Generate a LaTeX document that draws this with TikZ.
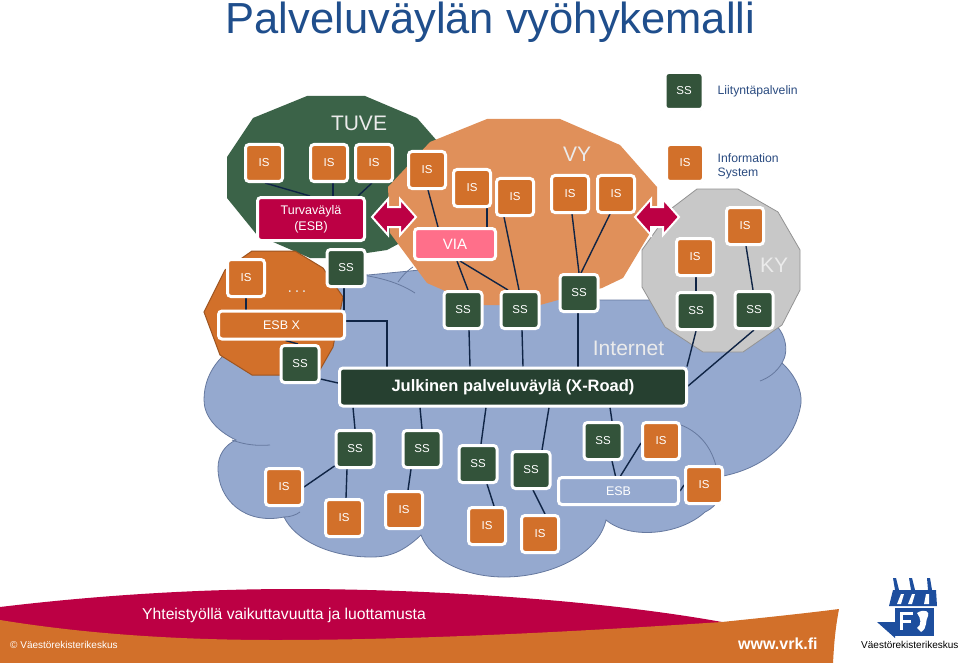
\documentclass[tikz,border=0pt]{standalone}
\usepackage{fontspec}
\setmainfont{Liberation Sans}
\usetikzlibrary{shadows,calc}
\pgfdeclarelayer{bgshapes}\pgfdeclarelayer{edges}
\pgfsetlayers{bgshapes,edges,main}
\definecolor{isorange}{HTML}{D2702A}
\definecolor{ssgreen}{HTML}{33533A}
\definecolor{tuvegreen}{HTML}{3B6348}
\definecolor{vyorange}{HTML}{E0905A}
\definecolor{crim}{HTML}{BC0044}
\definecolor{viapink}{HTML}{FF6F8A}
\definecolor{cloudblue}{HTML}{95A9CF}
\definecolor{cloudline}{HTML}{66799F}
\definecolor{busgreen}{HTML}{264030}
\definecolor{kygrey}{HTML}{C8C8C8}
\definecolor{edgeblue}{HTML}{0F2445}
\definecolor{titleblue}{HTML}{1F4E8C}
\definecolor{legendblue}{HTML}{2A4B80}
\definecolor{logoblue}{HTML}{1D4E9E}
\tikzset{
  box/.style={draw=white,line width=3pt,rounded corners=3.5pt,text=white,align=center,inner sep=0pt,
     drop shadow={shadow xshift=.8pt,shadow yshift=-.8pt,fill=black,opacity=.22}},
  isbox/.style={box,fill=isorange,minimum width=37pt,minimum height=37pt,font=\fontsize{11.5}{13}\selectfont},
  ssbox/.style={box,fill=ssgreen,minimum width=38pt,minimum height=37pt,font=\fontsize{11.5}{13}\selectfont},
  conn/.style={draw=edgeblue,line width=1.4pt},
  zone/.style={font=\fontsize{21}{24}\selectfont,text=white!92!black,inner sep=0pt},
  cloudedge/.style={draw=cloudline,line width=.8pt},
  bidir/.style={fill=crim,draw=white,line width=2pt,line join=miter},
  plain/.style={inner sep=0pt,align=left},
}
\begin{document}
\begin{tikzpicture}[x=1pt,y=-1pt]
\useasboundingbox (0,0) rectangle (960,663);
% background shapes
\begin{pgfonlayer}{bgshapes}
\fill[white] (0,0) rectangle (960,663);
\fill[cloudblue,cloudedge] (204,400) .. controls (204,370) and (225,345) .. (262,335)
  .. controls (290,290) and (330,268) .. (368,275) -- (420,270) -- (600,300) -- (700,300) -- (770,320)
  .. controls (785,330) and (790,350) .. (782,363)
  .. controls (795,375) and (802,390) .. (801,403)
  .. controls (795,445) and (760,470) .. (718,477)
  .. controls (725,490) and (720,505) .. (705,512)
  .. controls (680,535) and (630,540) .. (606,520)
  .. controls (598,555) and (550,577) .. (504,577)
  .. controls (465,577) and (430,560) .. (421,535)
  .. controls (400,555) and (385,557) .. (371,557)
  .. controls (330,557) and (295,540) .. (284,517)
  .. controls (245,525) and (218,500) .. (218,468)
  .. controls (218,455) and (225,445) .. (236,440)
  .. controls (215,430) and (204,415) .. (204,400) -- cycle;
\draw[cloudedge] (232,440) .. controls (245,445) and (258,446) .. (270,445);
\draw[cloudedge] (284,517) .. controls (290,517) and (296,515) .. (300,512);
\draw[cloudedge] (675,423) .. controls (700,430) and (715,450) .. (718,477);
\draw[cloudedge] (782,363) .. controls (776,373) and (768,378) .. (760,381);
\draw[cloudedge] (343,273) .. controls (370,275) and (395,280) .. (415,293);
\draw[cloudedge] (398,282) .. controls (402,276) and (408,270) .. (413,267);
% zones
\fill[tuvegreen] (307,96) -- (365,96) -- (417,118) -- (445,150) -- (445,230) -- (400,243) -- (387,250) -- (333,258) -- (310,258) -- (257,235) -- (227,198) -- (227,157) -- (253,118) -- cycle;
\fill[vyorange] (487,119) -- (560,119) -- (620,145) -- (657,187) -- (657,210) -- (650,233) -- (623,278) -- (602,288) -- (540,305) -- (477,305) -- (427,283) -- (390,233) -- (388,187) -- (430,142) -- cycle;
\fill[isorange,draw=isorange!75!black,line width=1pt] (252,251) -- (295,251) -- (323,268) -- (343,297) -- (333,347) -- (317,375) -- (252,375) -- (220,355) -- (204,312) -- (225,270) -- cycle;
\fill[kygrey,draw=gray!85,line width=.8pt] (697,189) -- (738,189) -- (778,212) -- (800,250) -- (800,290) -- (782,325) -- (743,352) -- (703,352) -- (665,327) -- (642,287) -- (642,250) -- (672,208) -- cycle;
\end{pgfonlayer}
% title and legend
\node[plain,text=titleblue,font=\fontsize{43.5}{46}\selectfont] (title) at (490.5,22) {Palveluväylän vyöhykemalli};
\node[ssbox] (lss) at (684,91) {SS};
\node[isbox] (lis) at (685,163) {IS};
\node[plain,text=legendblue,anchor=west,font=\fontsize{12.2}{13.5}\selectfont] (lssl) at (717.5,91.5) {Liityntäpalvelin};
\node[plain,text=legendblue,anchor=west,font=\fontsize{12.2}{14.5}\selectfont] (lisl) at (717.5,166.5) {Information\\System};
% zone labels
\node[zone] (ztuve) at (359,123) {TUVE};
\node[zone] (zvy) at (577,154) {VY};
\node[zone] (zky) at (774,265) {KY};
\node[zone] (zinet) at (628.5,348) {Internet};
\node[text=white!90!black,inner sep=0pt,font=\fontsize{16}{18}\selectfont] (dots) at (297,292) {.\,.\,.};
% TUVE
\node[isbox] (t1) at (264,163) {IS};
\node[isbox] (t2) at (329,163) {IS};
\node[isbox] (t3) at (374,163) {IS};
\node[box,fill=crim,minimum width=107pt,minimum height=43pt,font=\fontsize{12.5}{16}\selectfont] (tbus) at (311,219) {Turvaväylä\\(ESB)};
\node[ssbox] (tss) at (346,268) {SS};
% ESB X
\node[isbox] (xis) at (246,278) {IS};
\node[box,fill=isorange,minimum width=126pt,minimum height=28pt,font=\fontsize{12.5}{14}\selectfont] (xbus) at (281.5,325) {ESB X};
\node[ssbox] (xss) at (300,364) {SS};
% VY
\node[isbox] (v1) at (427,170) {IS};
\node[isbox] (v2) at (472,188) {IS};
\node[isbox] (v3) at (515,197) {IS};
\node[isbox] (v4) at (570,194) {IS};
\node[isbox] (v5) at (616,194) {IS};
\node[box,fill=viapink,minimum width=81pt,minimum height=31pt,font=\fontsize{15}{17}\selectfont] (via) at (455,244) {VIA};
\node[ssbox] (vs1) at (463,310) {SS};
\node[ssbox] (vs2) at (520,310) {SS};
\node[ssbox] (vs3) at (579,293) {SS};
% KY
\node[isbox] (k1) at (695,257) {IS};
\node[isbox] (k2) at (745,226) {IS};
\node[ssbox] (ks1) at (696,311) {SS};
\node[ssbox] (ks2) at (754,310) {SS};
% X-Road
\node[box,fill=busgreen,minimum width=347pt,minimum height=38pt,font=\bfseries\fontsize{16.5}{18}\selectfont] (bus) at (513,387) {Julkinen palveluväylä (X-Road)};
% lower cloud
\node[ssbox] (b1) at (355,449) {SS};
\node[ssbox] (b2) at (422,449) {SS};
\node[ssbox] (b3) at (478,464) {SS};
\node[ssbox] (b4) at (531,470) {SS};
\node[ssbox] (b5) at (603,441) {SS};
\node[isbox] (c1) at (284,487) {IS};
\node[isbox] (c2) at (344,518) {IS};
\node[isbox] (c3) at (404,510) {IS};
\node[isbox] (c4) at (487,526) {IS};
\node[isbox] (c5) at (540,534) {IS};
\node[isbox] (c6) at (661,441) {IS};
\node[isbox] (c7) at (704,485) {IS};
\node[box,fill=cloudblue,minimum width=120pt,minimum height=27pt,font=\fontsize{12.5}{14}\selectfont] (besb) at (618.5,491) {ESB};
% connectors
\begin{pgfonlayer}{edges}
\draw[conn] ([xshift=1pt]t1.south) -- ([xshift=-1pt]tbus.north);
\draw[conn] ([xshift=4pt]t2.south) -- ([xshift=22pt]tbus.north);
\draw[conn] ([xshift=-2pt]t3.south) -- ([xshift=47pt]tbus.north);
\draw[conn] ([xshift=-2pt]tss.south) -- ([xshift=62.5pt]xbus.north);
\draw[conn] (xis.south) -- ([xshift=-35.5pt]xbus.north);
\draw[conn] ([xshift=4pt]xbus.south) -- ([xshift=-2pt]xss.north);
\draw[conn] ([yshift=4pt]xbus.east) -| ([xshift=-126pt]bus.north);
\draw[conn] ([yshift=-15pt]xss.east) -- ([yshift=4pt]bus.west);
\draw[conn] ([xshift=1pt]v1.south) -- ([xshift=-17pt]via.north);
\draw[conn] ([xshift=15pt]v2.south) -- ([xshift=32pt]via.north);
\draw[conn] ([xshift=2pt]via.south) -- ([xshift=5pt]vs1.north);
\draw[conn] ([xshift=5pt]via.south) -- ([xshift=-12pt]vs2.north);
\draw[conn] ([xshift=-11pt]v3.south) -- ([xshift=-1pt]vs2.north);
\draw[conn] ([xshift=2pt]v4.south) -- (vs3.north);
\draw[conn] ([xshift=-6pt]v5.south) -- ([xshift=2pt]vs3.north);
\draw[conn] ([xshift=6pt]vs1.south) -- ([xshift=-43pt]bus.north);
\draw[conn] ([xshift=2pt]vs2.south) -- ([xshift=10pt]bus.north);
\draw[conn] ([xshift=-1pt]vs3.south) -- ([xshift=65pt]bus.north);
\draw[conn] ([xshift=1pt]k1.south) -- (ks1.north);
\draw[conn] ([xshift=1pt]k2.south) -- ([xshift=-1pt]ks2.north);
\draw[conn] (ks1.south) -- ([xshift=174pt]bus.north);
\draw[conn] (ks2.south) -- ([yshift=1pt]bus.east);
\draw[conn] ([xshift=-160pt]bus.south) -- (b1.north);
\draw[conn] ([xshift=-93pt]bus.south) -- (b2.north);
\draw[conn] ([xshift=-27pt]bus.south) -- ([xshift=3pt]b3.north);
\draw[conn] ([xshift=36pt]bus.south) -- ([xshift=11pt]b4.north);
\draw[conn] ([xshift=97pt]bus.south) -- ([xshift=9pt]b5.north);
\draw[conn] ([yshift=-17pt]b1.west) -- (c1.east);
\draw[conn] ([xshift=-8pt]b1.south) -- ([xshift=2pt]c2.north);
\draw[conn] ([xshift=-11pt]b2.south) -- ([xshift=4pt]c3.north);
\draw[conn] ([xshift=9pt]b3.south) -- ([xshift=7pt]c4.north);
\draw[conn] ([xshift=2pt]b4.south) -- ([xshift=5pt]c5.north);
\draw[conn] ([xshift=9pt]b5.south) -- ([xshift=-3pt]besb.north);
\draw[conn] ([yshift=-2pt]c6.west) -- ([xshift=2pt]besb.north);
\draw[conn] (besb.east) -- (c7.west);
\end{pgfonlayer}
% double arrows
\draw[bidir] (372,217) -- (388,199) -- (388,207) -- (400,207) -- (400,199) -- (416,217) -- (400,235) -- (400,227) -- (388,227) -- (388,235) -- cycle;
\draw[bidir] (635,217) -- (651,199) -- (651,207) -- (663,207) -- (663,199) -- (679,217) -- (663,235) -- (663,227) -- (651,227) -- (651,235) -- cycle;
% footer
\fill[crim] (0,607) .. controls (100,595) and (200,589) .. (294,589) .. controls (430,589) and (600,600) .. (722,622) -- (722,640) -- (0,640) -- cycle;
\fill[isorange] (0,620) .. controls (80,633) and (170,640) .. (275,640) .. controls (430,640) and (600,630) .. (722,622) .. controls (760,618) and (800,614) .. (839,609) .. controls (835,630) and (834,645) .. (833,663) -- (0,663) -- cycle;
\node[plain,text=white,anchor=west,font=\fontsize{15.7}{18}\selectfont] (slogan) at (142,615) {Yhteistyöllä vaikuttavuutta ja luottamusta};
\node[plain,text=white,anchor=west,font=\fontsize{10}{12}\selectfont] (copy) at (10,645) {© Väestörekisterikeskus};
\node[plain,text=white,anchor=west,font=\bfseries\fontsize{16}{18}\selectfont] (web) at (738,644) {www.vrk.fi};
% logo
\fill[logoblue] (889,606) -- (893,590) -- (936,590) -- (937,606) -- cycle;
\fill[logoblue] (895,590) -- (893,578) -- (896,578) -- (899,590) -- cycle;
\fill[logoblue] (911,590) -- (909,578) -- (912,578) -- (915,590) -- cycle;
\fill[logoblue] (928,590) -- (927,578) -- (930,578) -- (932,590) -- cycle;
\fill[white] (897,604) -- (901,594) -- (904,594) -- (901,604) -- cycle;
\fill[white] (908,604) -- (912,594) -- (915,594) -- (912,604) -- cycle;
\fill[white] (924,604) -- (926,594) -- (929,594) -- (929,604) -- cycle;
\fill[logoblue] (895,608) rectangle (934,636);
\fill[logoblue] (877,622) -- (895,622) -- (895,638) -- cycle;
\fill[white] (900,612) rectangle (913,615);
\fill[white] (900,612) rectangle (903,630);
\fill[white] (900,620) rectangle (911,623);
\fill[white] (917,613) .. controls (925,608) and (930,612) .. (928,616) .. controls (925,620) and (928,628) .. (921,632) -- (917,628) .. controls (922,625) and (921,618) .. (917,613) -- cycle;
\node[plain,text=black,anchor=west,font=\fontsize{10}{12}\selectfont] (logot) at (861,645) {Väestörekisterikeskus};
\end{tikzpicture}
\end{document}
